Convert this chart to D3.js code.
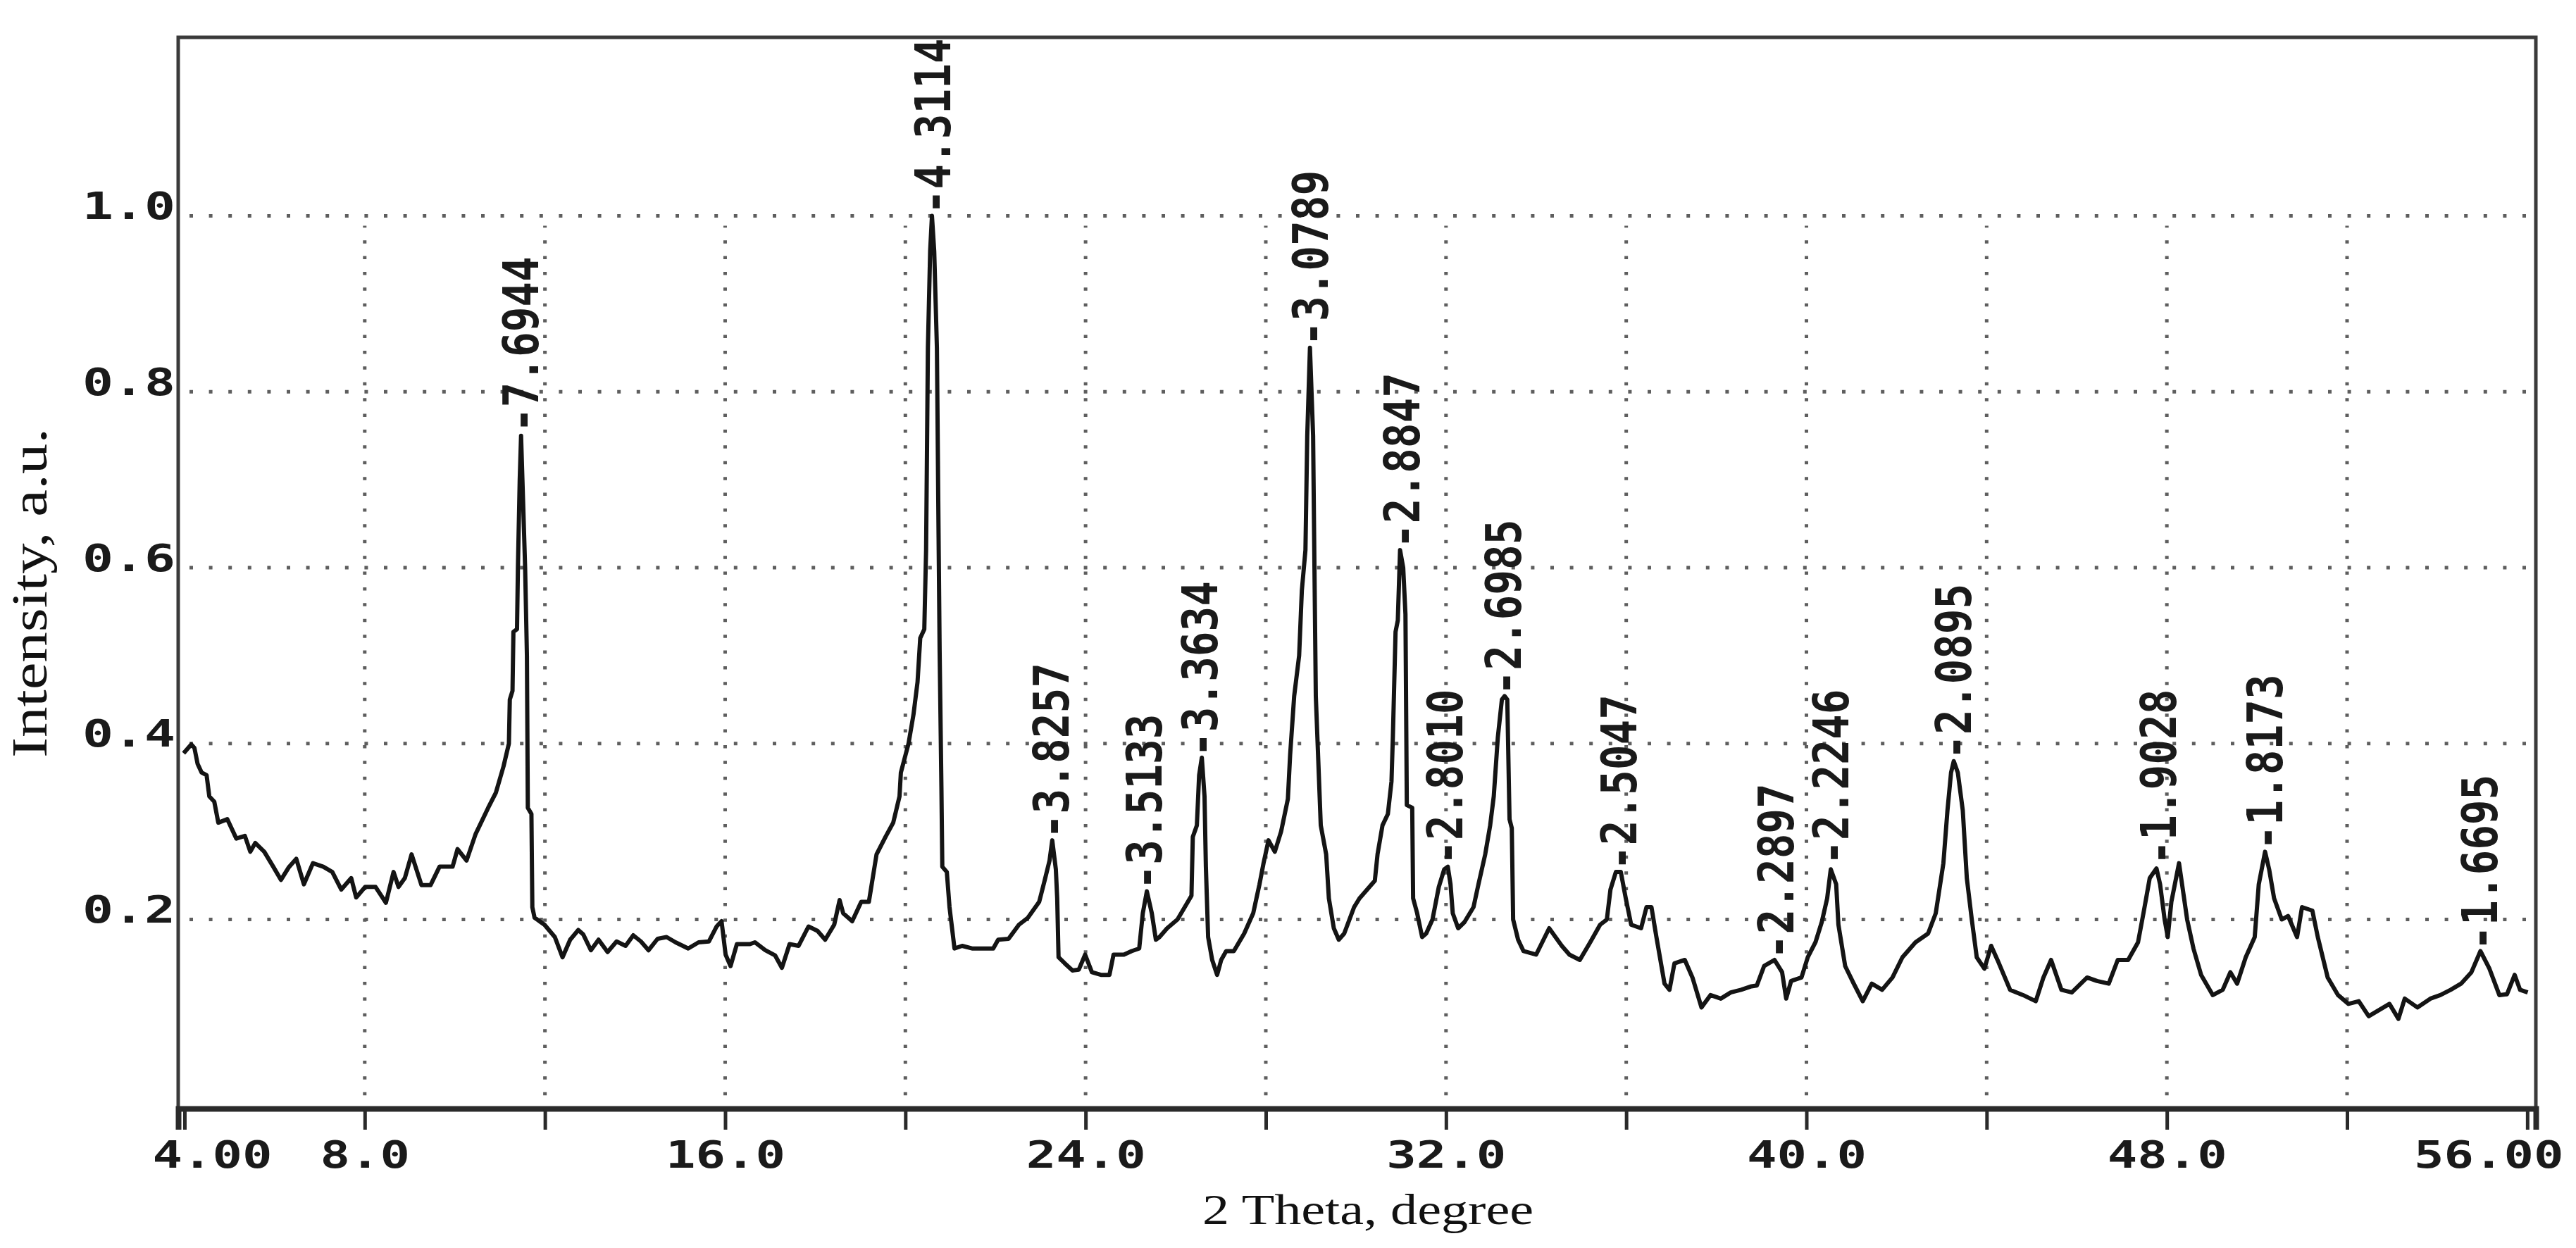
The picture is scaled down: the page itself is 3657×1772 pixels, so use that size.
<!DOCTYPE html>
<html><head><meta charset="utf-8">
<script src="https://cdn.jsdelivr.net/npm/d3@7"></script>
<style>html,body{margin:0;padding:0;background:#fff;} svg{display:block}</style>
</head><body>
<script>
// ---- data ----
const twoTheta = [3.98,4.15,4.22,4.29,4.38,4.49,4.55,4.66,4.75,4.95,5.15,5.34,5.46,5.57,5.77,5.97,6.14,6.31,6.48,6.65,6.85,7.08,7.28,7.48,7.70,7.81,8.01,8.24,8.47,8.64,8.75,8.89,9.04,9.26,9.46,9.66,9.95,10.06,10.26,10.46,10.74,10.91,11.08,11.20,11.22,11.28,11.30,11.38,11.40,11.44,11.47,11.50,11.56,11.60,11.62,11.70,11.72,11.77,11.99,12.22,12.39,12.56,12.74,12.85,13.02,13.19,13.39,13.59,13.79,13.96,14.13,14.30,14.50,14.70,14.90,15.18,15.41,15.64,15.81,15.92,16.01,16.12,16.26,16.55,16.66,16.89,17.11,17.26,17.43,17.63,17.85,18.05,18.22,18.42,18.54,18.62,18.82,19.02,19.19,19.36,19.56,19.73,19.87,19.90,20.07,20.18,20.27,20.33,20.42,20.46,20.50,20.55,20.59,20.64,20.70,20.74,20.76,20.80,20.82,20.92,20.98,21.09,21.26,21.48,21.60,21.95,22.06,22.29,22.52,22.72,22.97,23.09,23.20,23.26,23.34,23.37,23.40,23.54,23.71,23.85,23.99,24.14,24.34,24.53,24.62,24.85,25.02,25.19,25.27,25.36,25.47,25.56,25.64,25.81,26.04,26.27,26.35,26.38,26.47,26.52,26.58,26.64,26.67,26.72,26.81,26.92,27.01,27.12,27.29,27.52,27.72,27.86,27.95,28.06,28.20,28.34,28.49,28.54,28.63,28.74,28.80,28.88,28.92,28.98,29.05,29.08,29.11,29.22,29.34,29.40,29.51,29.62,29.74,29.96,30.08,30.25,30.42,30.48,30.59,30.71,30.79,30.82,30.88,30.93,30.98,31.05,31.10,31.13,31.25,31.27,31.36,31.47,31.56,31.70,31.84,31.96,32.04,32.10,32.15,32.27,32.41,32.61,32.72,32.87,32.98,33.06,33.15,33.24,33.30,33.36,33.41,33.46,33.49,33.60,33.72,34.00,34.29,34.57,34.74,34.97,35.20,35.42,35.57,35.65,35.77,35.88,35.99,36.11,36.33,36.45,36.56,36.67,36.85,36.96,37.07,37.30,37.47,37.67,37.87,38.10,38.32,38.55,38.78,38.90,39.06,39.29,39.46,39.55,39.66,39.89,40.03,40.20,40.34,40.46,40.54,40.66,40.71,40.86,41.05,41.25,41.45,41.68,41.91,42.13,42.42,42.70,42.87,43.04,43.13,43.21,43.27,43.36,43.47,43.56,43.67,43.78,43.95,44.10,44.24,44.52,44.81,45.09,45.26,45.43,45.66,45.89,46.23,46.45,46.71,46.91,47.14,47.36,47.48,47.62,47.77,47.85,47.95,48.02,48.10,48.27,48.45,48.59,48.76,49.02,49.24,49.41,49.56,49.75,49.95,50.04,50.18,50.27,50.38,50.55,50.69,50.89,51.00,51.23,51.35,51.57,51.80,52.03,52.26,52.48,52.71,52.94,53.14,53.28,53.56,53.85,54.07,54.30,54.53,54.76,54.96,55.16,55.38,55.55,55.72,55.84,56.01];
const intensity = [0.389,0.399,0.395,0.377,0.367,0.364,0.340,0.334,0.310,0.314,0.292,0.295,0.277,0.287,0.277,0.260,0.245,0.259,0.269,0.240,0.264,0.260,0.254,0.234,0.247,0.225,0.237,0.237,0.219,0.254,0.237,0.247,0.274,0.239,0.239,0.260,0.260,0.280,0.267,0.297,0.327,0.344,0.374,0.400,0.450,0.460,0.527,0.530,0.600,0.700,0.750,0.700,0.600,0.500,0.327,0.320,0.214,0.202,0.194,0.180,0.157,0.177,0.188,0.183,0.165,0.177,0.163,0.175,0.170,0.182,0.175,0.165,0.178,0.180,0.174,0.167,0.174,0.175,0.192,0.198,0.160,0.147,0.172,0.172,0.174,0.165,0.159,0.145,0.172,0.170,0.192,0.187,0.177,0.194,0.222,0.207,0.198,0.220,0.220,0.274,0.294,0.310,0.340,0.367,0.400,0.433,0.470,0.520,0.530,0.620,0.850,0.960,1.000,0.960,0.850,0.620,0.507,0.350,0.260,0.254,0.214,0.167,0.170,0.167,0.167,0.167,0.177,0.178,0.194,0.202,0.220,0.244,0.267,0.290,0.257,0.224,0.157,0.150,0.142,0.143,0.160,0.140,0.137,0.137,0.160,0.160,0.164,0.167,0.207,0.232,0.207,0.177,0.180,0.190,0.200,0.220,0.227,0.294,0.307,0.364,0.384,0.340,0.260,0.180,0.154,0.137,0.154,0.164,0.164,0.184,0.207,0.240,0.264,0.290,0.277,0.300,0.337,0.387,0.454,0.500,0.574,0.620,0.750,0.850,0.750,0.600,0.454,0.307,0.274,0.224,0.190,0.177,0.184,0.214,0.224,0.234,0.244,0.274,0.307,0.320,0.357,0.407,0.527,0.540,0.620,0.600,0.547,0.330,0.327,0.224,0.207,0.180,0.184,0.200,0.237,0.257,0.260,0.240,0.207,0.190,0.197,0.214,0.240,0.274,0.307,0.340,0.407,0.450,0.454,0.450,0.314,0.304,0.200,0.177,0.164,0.160,0.190,0.170,0.160,0.154,0.174,0.194,0.200,0.234,0.254,0.254,0.224,0.194,0.190,0.214,0.214,0.180,0.127,0.120,0.150,0.154,0.134,0.100,0.114,0.110,0.117,0.120,0.124,0.125,0.147,0.154,0.140,0.110,0.130,0.134,0.157,0.174,0.197,0.224,0.257,0.240,0.194,0.147,0.127,0.107,0.127,0.120,0.134,0.157,0.174,0.184,0.207,0.264,0.324,0.367,0.380,0.367,0.324,0.247,0.200,0.157,0.144,0.170,0.154,0.120,0.114,0.107,0.134,0.154,0.120,0.117,0.134,0.130,0.127,0.154,0.154,0.174,0.207,0.247,0.258,0.240,0.200,0.180,0.220,0.264,0.200,0.167,0.137,0.114,0.120,0.140,0.127,0.157,0.180,0.240,0.277,0.257,0.224,0.200,0.204,0.180,0.214,0.210,0.180,0.134,0.114,0.104,0.107,0.090,0.097,0.104,0.087,0.110,0.100,0.110,0.114,0.120,0.127,0.140,0.164,0.144,0.114,0.115,0.137,0.120,0.117];

const peakLabels = ["7.6944","4.3114","3.8257","3.5133","3.3634","3.0789","2.8847","2.8010","2.6985","2.5047","2.2897","2.2246","2.0895","1.9028","1.8173","1.6695"];
const peakPos    = [11.47,20.62,23.25,25.31,26.55,29.00,31.03,31.98,33.28,35.85,39.33,40.55,43.27,47.82,50.19,54.96];
const peakTop    = [0.752,1.000,0.290,0.232,0.383,0.850,0.620,0.260,0.453,0.254,0.153,0.260,0.380,0.260,0.277,0.163];

const xTickValues = [4,8,12,16,20,24,28,32,36,40,44,48,52,56];
const xLabelValues = [4,8,16,24,32,40,48,56];
const xLabelTexts  = ["4.00","8.0","16.0","24.0","32.0","40.0","48.0","56.00"];
const xGridValues = [8,12,16,20,24,28,32,36,40,44,48,52];
const yTickValues = [0.2,0.4,0.6,0.8,1.0];
const yTickTexts  = ["0.2","0.4","0.6","0.8","1.0"];
const xTitle = "2 Theta, degree";
const yTitle = "Intensity, a.u.";

// ---- drawing ----
const W = 3657, H = 1772;
const L = 253, R = 3600, T = 53, B = 1574;
const svg = d3.select("body").append("svg").attr("width", W).attr("height", H)
  .style("background", "#fff");

const x = d3.scaleLinear().domain([3.86, 56.19]).range([L, R]);
const y = d3.scaleLinear().domain([-0.015, 1.203]).range([B, T]);

const mono = "'DejaVu Sans Mono', 'Liberation Mono', monospace";
const serif = "'Liberation Serif', 'DejaVu Serif', serif";

// gridlines
const grid = svg.append("g").attr("stroke", "#5e5e5e").attr("stroke-width", 5);
grid.selectAll("line.h").data(yTickValues).join("line").attr("class", "h")
  .attr("x1", L + 16).attr("x2", R - 10)
  .attr("y1", d => y(d)).attr("y2", d => y(d))
  .attr("stroke-dasharray", "5 22.6");
grid.selectAll("line.v").data(xGridValues).join("line").attr("class", "v")
  .attr("x1", d => x(d)).attr("x2", d => x(d))
  .attr("y1", y(0)).attr("y2", y(1.0) + 14)
  .attr("stroke-dasharray", "4.5 17.9");

// frame
svg.append("rect").attr("x", L).attr("y", T).attr("width", R - L).attr("height", B - T)
  .attr("fill", "none").attr("stroke", "#3a3a3a").attr("stroke-width", 5);

// bottom axis
const xAxis = d3.axisBottom(x).tickValues(xTickValues).tickSize(30).tickPadding(0)
  .tickFormat(d => { const i = xLabelValues.indexOf(d); return i >= 0 ? xLabelTexts[i] : ""; });
const gx = svg.append("g").attr("transform", `translate(0,${B})`).call(xAxis);
gx.select(".domain").attr("stroke", "#2a2a2a").attr("stroke-width", 8);
gx.selectAll(".tick line").attr("stroke", "#2a2a2a").attr("stroke-width", 5);
gx.selectAll(".tick text")
  .attr("fill", "#1a1a1a").attr("y", 84).attr("dy", 0)
  .style("font-family", mono).style("font-weight", "bold").style("font-size", "54px")
  .attr("textLength", function () { return this.textContent.length * 42.5; })
  .attr("lengthAdjust", "spacingAndGlyphs")
  .each(function (d) {
    const s = d3.select(this);
    if (d === xLabelValues[0]) s.attr("text-anchor", "start").attr("x", L - x(d) - 37);
    if (d === xLabelValues[xLabelValues.length - 1]) s.attr("text-anchor", "end").attr("x", R - x(d) + 39);
  });

// left axis labels
const yAxis = d3.axisLeft(y).tickValues(yTickValues).tickSize(0).tickPadding(4)
  .tickFormat((d, i) => yTickTexts[i]);
const gy = svg.append("g").attr("transform", `translate(${L},0)`).call(yAxis);
gy.select(".domain").remove();
gy.selectAll(".tick text")
  .attr("fill", "#1a1a1a").attr("dy", 4)
  .style("font-family", mono).style("font-weight", "bold").style("font-size", "54px")
  .attr("textLength", function () { return this.textContent.length * 44; })
  .attr("lengthAdjust", "spacingAndGlyphs");

// pattern line
const pts = twoTheta.map((t, i) => [t, intensity[i]]);
svg.append("path").datum(pts)
  .attr("fill", "none").attr("stroke", "#141414").attr("stroke-width", 6)
  .attr("stroke-linejoin", "round")
  .attr("d", d3.line().x(d => x(d[0])).y(d => y(d[1])));

// peak labels
const lab = svg.append("g");
peakLabels.forEach((txt, i) => {
  lab.append("text")
    .attr("transform", `translate(${x(peakPos[i])},${y(peakTop[i]) - 2}) rotate(-90)`)
    .attr("text-anchor", "start").attr("dominant-baseline", "central")
    .attr("fill", "#1a1a1a")
    .style("font-family", mono).style("font-weight", "bold").style("font-size", "70px")
    .attr("textLength", 250).attr("lengthAdjust", "spacingAndGlyphs")
    .text("-" + txt);
});

// titles
svg.append("text").attr("x", 1942).attr("y", 1738).attr("text-anchor", "middle")
  .style("font-family", serif).style("font-size", "62px").attr("fill", "#111")
  .attr("textLength", 470).attr("lengthAdjust", "spacingAndGlyphs")
  .text(xTitle);
svg.append("text").attr("transform", "translate(66,842) rotate(-90)").attr("text-anchor", "middle")
  .style("font-family", serif).style("font-size", "72px").attr("fill", "#111")
  .attr("textLength", 468).attr("lengthAdjust", "spacingAndGlyphs")
  .text(yTitle);
</script>
</body></html>
